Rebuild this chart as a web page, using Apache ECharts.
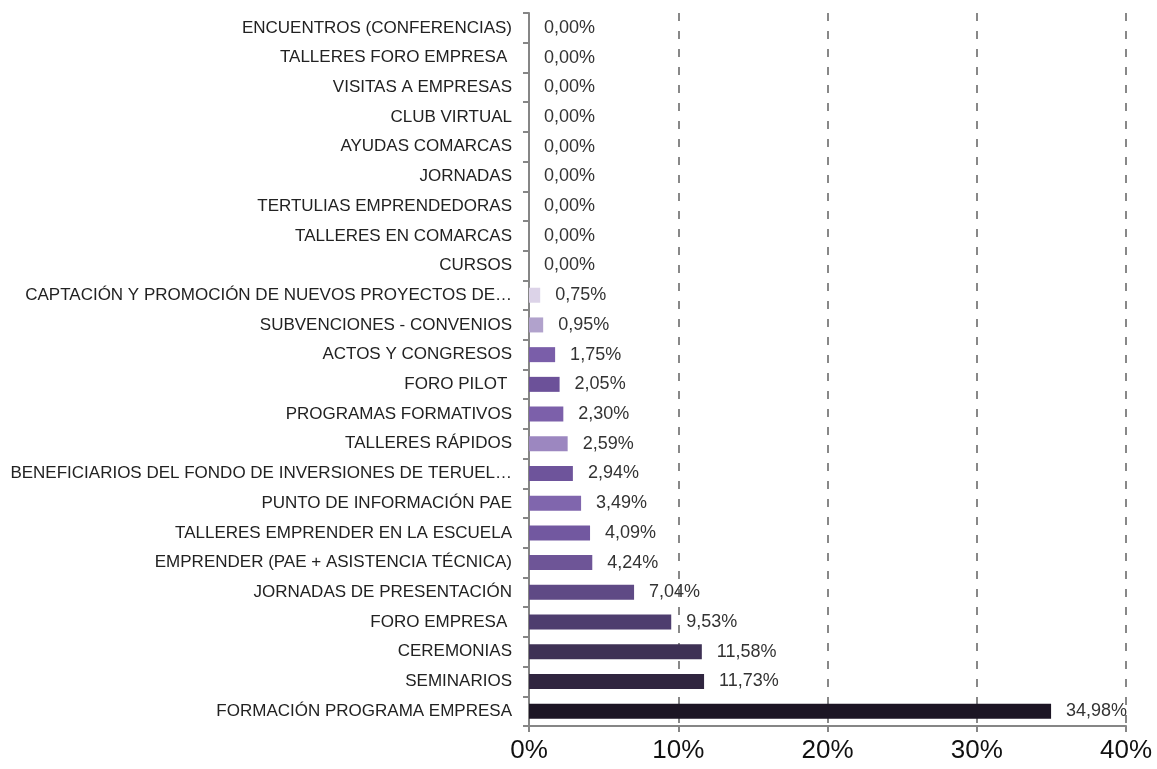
<!DOCTYPE html>
<html>
<head>
<meta charset="utf-8">
<script src="https://cdn.jsdelivr.net/npm/echarts@6/dist/echarts.min.js"></script>
<style>
  html, body { margin: 0; padding: 0; background: #fff; }
  #chart { width: 1157px; height: 769px; }
</style>
</head>
<body>
<div id="chart"></div>
<script>
// categories, top to bottom
const categories = [
  'ENCUENTROS (CONFERENCIAS)',
  'TALLERES FORO EMPRESA ',
  'VISITAS A EMPRESAS',
  'CLUB VIRTUAL',
  'AYUDAS COMARCAS',
  'JORNADAS',
  'TERTULIAS EMPRENDEDORAS',
  'TALLERES EN COMARCAS',
  'CURSOS',
  'CAPTACIÓN Y PROMOCIÓN DE NUEVOS PROYECTOS DE…',
  'SUBVENCIONES - CONVENIOS',
  'ACTOS Y CONGRESOS',
  'FORO PILOT ',
  'PROGRAMAS FORMATIVOS',
  'TALLERES RÁPIDOS',
  'BENEFICIARIOS DEL FONDO DE INVERSIONES DE TERUEL…',
  'PUNTO DE INFORMACIÓN PAE',
  'TALLERES EMPRENDER EN LA ESCUELA',
  'EMPRENDER (PAE + ASISTENCIA TÉCNICA)',
  'JORNADAS DE PRESENTACIÓN',
  'FORO EMPRESA ',
  'CEREMONIAS',
  'SEMINARIOS',
  'FORMACIÓN PROGRAMA EMPRESA'
];

// percentages
const values = [
  0, 0, 0, 0, 0, 0, 0, 0, 0,
  0.75, 0.95, 1.75, 2.05, 2.30, 2.59, 2.94, 3.49, 4.09, 4.24,
  7.04, 9.53, 11.58, 11.73, 34.98
];

const barColors = [
  '#ffffff', '#ffffff', '#ffffff', '#ffffff', '#ffffff', '#ffffff', '#ffffff', '#ffffff', '#ffffff',
  '#dcd3e8', '#b1a2cc', '#7a5ea9', '#6c5199', '#7c60aa', '#9c87c0', '#6e549b', '#8066ad',
  '#7258a0', '#6e5597', '#5f4a85', '#4e3d6e', '#3e3155', '#30253f', '#1c1524'
];

const xTicks = [0, 10, 20, 30, 40];

const FONT = '"Liberation Sans", Arial, sans-serif';

const chart = echarts.init(document.getElementById('chart'));

const option = {
  animation: false,
  grid: {
    left: 529,
    right: 31,
    top: 13,
    bottom: 43,
    outerBoundsMode: 'none'
  },
  xAxis: {
    type: 'value',
    min: xTicks[0],
    max: xTicks[xTicks.length - 1],
    interval: 10,
    axisLine: { show: true, lineStyle: { color: '#868686', width: 2 } },
    axisTick: { show: true, length: 6, lineStyle: { color: '#868686', width: 2 } },
    axisLabel: {
      formatter: '{value}%',
      fontFamily: FONT,
      fontSize: 26,
      color: '#111',
      margin: 12
    },
    splitLine: {
      show: true,
      lineStyle: { color: '#888', width: 2, type: [8, 10] }
    }
  },
  yAxis: {
    type: 'category',
    inverse: true,
    data: categories,
    axisLine: { show: true, lineStyle: { color: '#868686', width: 2 } },
    axisTick: { show: true, length: 6, lineStyle: { color: '#868686', width: 2 } },
    axisLabel: {
      fontFamily: FONT,
      fontSize: 17,
      color: '#222',
      margin: 17
    }
  },
  series: [
    {
      type: 'bar',
      data: values.map((v, i) => ({ value: v, itemStyle: { color: barColors[i] } })),
      barWidth: 15,
      label: {
        show: true,
        position: 'right',
        distance: 15,
        fontFamily: FONT,
        fontSize: 18,
        color: '#333',
        formatter: p => p.value.toFixed(2).replace('.', ',') + '%'
      }
    }
  ]
};

chart.setOption(option);
</script>
</body>
</html>
